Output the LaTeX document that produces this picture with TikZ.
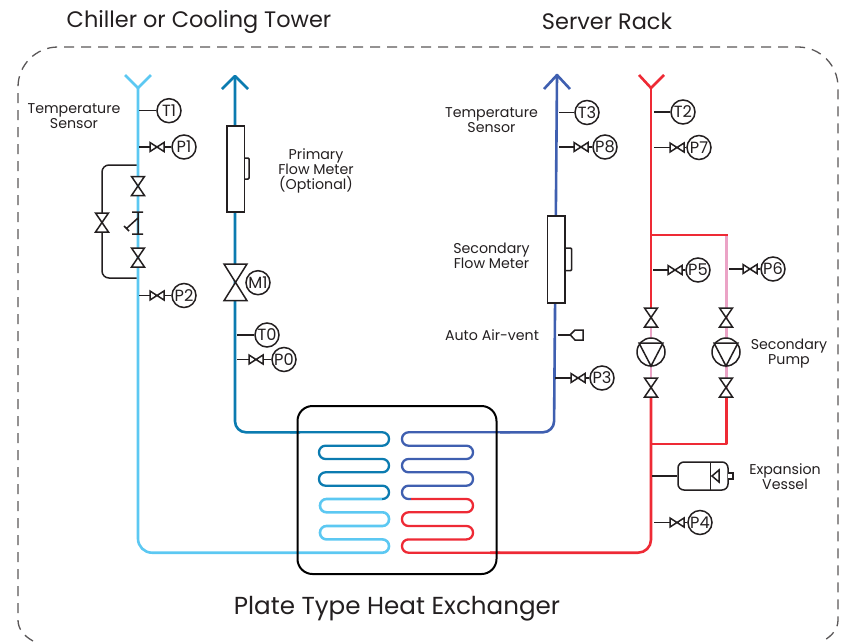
\documentclass[tikz,border=0pt]{standalone}
\usepackage{fontspec}
\setmainfont{Poppins}
\definecolor{lblue}{HTML}{5CC8F2}
\definecolor{teal2}{HTML}{0B7BB0}
\definecolor{blue2}{HTML}{3F5FB0}
\definecolor{red2}{HTML}{EE2A35}
\definecolor{pink2}{HTML}{EBA3C6}
\definecolor{ink}{HTML}{231F20}
\tikzset{
  x=1pt,y=-1pt,
  pipe/.style={line width=2.6pt,line join=round},
  coilline/.style={line width=2.3pt,rounded corners=6.5pt},
  instr/.style={draw=ink,line width=1.5pt},
  bow/.style={draw=ink,line width=1.5pt,fill=white,line join=miter},
  gauge/.style={circle,draw=ink,line width=1.5pt,fill=white,minimum size=24pt,inner sep=0pt,font=\fontsize{16.2}{17}\selectfont,text=ink},
  lab/.style={align=center,inner sep=0pt,font=\fontsize{14.2}{15}\selectfont,text=ink},
  head/.style={inner sep=0pt,font=\fontsize{22.4}{25}\selectfont,text=ink},
  hxbox/.style={draw=black,line width=2pt,rounded corners=15pt,minimum width=199pt,minimum height=168pt,inner sep=0pt},
  meter/.style={draw=ink,line width=1.5pt,fill=white,minimum width=17.5pt,inner sep=0pt},
}
% vertical bowtie valve: name, x, y centre
\newcommand{\VValve}[3]{\coordinate (#1) at (#2,#3);
  \draw[bow] ([shift={(-6.5pt,-9.5pt)}]#1) -- ([shift={(6.5pt,-9.5pt)}]#1) -- ([shift={(-6.5pt,9.5pt)}]#1) -- ([shift={(6.5pt,9.5pt)}]#1) -- cycle;}
% gauge: name, pipe x, y, valve left x, gauge x, label
\newcommand{\Gauge}[6]{\coordinate (#1s) at (#2,#3);\coordinate (#1v) at (#4,#3);
  \node[gauge] (#1) at (#5,#3) {\makebox[0pt][c]{#6}};
  \draw[instr] (#1s) -- (#1v);
  \draw[instr] (#1v) ++(14pt,0) -- (#1);
  \draw[bow] (#1v) ++(0,-4.5pt) -- ++(14pt,9pt) -- ++(0,-9pt) -- ++(-14pt,9pt) -- cycle;}
% sensor: name, pipe x, y, circle x, label
\newcommand{\Sensor}[5]{\coordinate (#1s) at (#2,#3);
  \node[gauge] (#1) at (#4,#3) {\makebox[0pt][c]{#5}};
  \draw[instr] (#1s) -- (#1);}
% pump: name, x, y
\newcommand{\Pump}[3]{\node[circle,draw=ink,line width=1.5pt,fill=white,minimum size=28pt,inner sep=0pt] (#1) at (#2,#3) {};
  \draw[draw=ink,line width=1.5pt,line join=miter] ([shift={(-12pt,9pt)}]#1.center) -- ([shift={(12pt,9pt)}]#1.center) -- ([shift={(0,-14pt)}]#1.center) -- cycle;}
\begin{document}
\begin{tikzpicture}
\useasboundingbox (0,0) rectangle (846,641);
% dashed frame
\coordinate (fa) at (33,641);\coordinate (fb) at (18,620);\coordinate (fc) at (18,87);
\coordinate (fd) at (58,47);\coordinate (fe) at (798,47);\coordinate (ff) at (838,87);
\coordinate (fg) at (838,620);\coordinate (fh) at (823,641);
\draw[draw=ink!75,line width=1.3pt,dash pattern=on 10pt off 7pt]
  (fa) .. controls (24,636) and (18,629) .. (fb) -- (fc) .. controls (18,65) and (36,47) .. (fd)
  -- (fe) .. controls (820,47) and (838,65) .. (ff) -- (fg) .. controls (838,629) and (832,636) .. (fh);
% headings
\node[head] (h1) at (199,21.5) {Chiller or Cooling Tower};
\node[head] (h2) at (607,21.5) {Server Rack};
\node[head,font=\fontsize{24.6}{28}\selectfont] (h3) at (397,609) {Plate Type Heat Exchanger};
% light blue loop
\draw[pipe,draw=lblue] (125,75) -- (138,88) -- (151,75);
\draw[coilline,draw=lblue] (382,499) -- (320,499) -- (320,512.3) -- (389,512.3) -- (389,526) -- (320,526) -- (320,539.4) -- (389,539.4) -- (389,552.7) -- (300,552.7)
  [rounded corners=14pt] -- (138,552.7) [line width=2.6pt] -- (138,88);
\draw[pipe,draw=lblue] (138,530) -- (138,88);
% teal loop
\draw[pipe,draw=teal2] (222,89) -- (235,76) -- (248,89);
\draw[pipe,draw=teal2,rounded corners=11pt] (235,76) -- (235,432.3) -- (300,432.3);
\draw[coilline,draw=teal2] (290,432.3) -- (389,432.3) -- (389,445.7) -- (319,445.7) -- (319,459) -- (389,459) -- (389,472.3) -- (319,472.3) -- (319,485.7) -- (389,485.7) -- (389,499) -- (382,499);
% blue loop
\draw[pipe,draw=blue2] (544,89) -- (557,75) -- (570,89);
\draw[pipe,draw=blue2,rounded corners=11pt] (557,76) -- (554,432.3) -- (500,432.3);
\draw[coilline,draw=blue2] (510,432.3) -- (402,432.3) -- (402,445.7) -- (473,445.7) -- (473,459) -- (402,459) -- (402,472.3) -- (473,472.3) -- (473,485.7) -- (402,485.7) -- (402,499) -- (411,499);
% red loop
\draw[pipe,draw=red2] (639,75) -- (651,88) -- (664,75);
\draw[coilline,draw=red2] (411,499) -- (473,499) -- (473,512.3) -- (402,512.3) -- (402,526) -- (473,526) -- (473,539.4) -- (402,539.4) -- (402,552.7) -- (500,552.7);
\draw[pipe,draw=red2,rounded corners=13pt] (490,552.7) -- (651,552.7) -- (651,397);
\draw[pipe,draw=pink2] (651,397) -- (651,308);
\draw[pipe,draw=red2] (651,308) -- (651,88);
\draw[pipe,draw=pink2] (726.5,235) -- (726.5,397);
\draw[pipe,draw=red2] (651,235) -- (727.8,235);
\draw[pipe,draw=red2,line join=round] (651,444) -- (726.5,444) -- (726.5,397);
% heat exchanger
\node[hxbox] (hx) at (397,490) {};
% light blue instruments
\draw[instr,rounded corners=7pt] (136.5,165) -- (102,165) -- (102,278) -- (136.5,278);
\VValve{vb}{102}{222.5}
\VValve{va}{138}{186}
\VValve{vc}{138}{257.5}
\coordinate (sa) at (138,212);\coordinate (sb) at (138,234);
\draw[instr] (sa) -- (sb) (132,212) -- (143,212) (132,234) -- (143,234) (138,218) -- (127,228) (124,226) -- (129,231);
\Sensor{T1}{139}{110.7}{169}{T1}
\Gauge{P1}{139}{147}{150}{184}{P1}
\Gauge{P2}{139}{295.5}{150}{184}{P2}
\node[lab] (l1) at (74,116) {Temperature\\Sensor};
% teal instruments
\node[meter,minimum height=86pt] (fm1) at (235.5,169) {};
\draw[instr,rounded corners=1pt] (244.3,158) -- (249,158) -- (249,179) -- (244.3,179);
\coordinate (mv) at (235.5,282.5);
\node[gauge] (M1) at (258,282.7) {\makebox[0pt][c]{M1}};
\draw[bow] (224,264) -- (247,264) -- (224,300.7) -- (247,300.7) -- cycle;
\Sensor{T0}{237}{335}{267}{T0}
\Gauge{P0}{237}{359.5}{249}{284}{P0}
\node[lab] (l2) at (316,170.5) {Primary\\Flow Meter\\(Optional)};
% blue instruments
\Sensor{T3}{559}{112.5}{587}{T3}
\Gauge{P8}{559}{147}{574}{605}{P8}
\node[meter,minimum height=87pt] (fm2) at (556,259.5) {};
\draw[instr,rounded corners=1pt] (564.8,248) -- (571.5,248) -- (571.5,270.7) -- (564.8,270.7);
\coordinate (avs) at (558,335);
\node[inner sep=0pt,minimum size=0pt] (av) at (570,335) {};
\draw[instr] (avs) -- (av);
\draw[draw=ink,line width=1.5pt,fill=white] (av) -- (575,330) -- (583,330) -- (583,340) -- (575,340) -- cycle;
\Gauge{P3}{555}{378}{571}{602}{P3}
\node[lab] (l3) at (491.5,120.5) {Temperature\\Sensor};
\node[lab] (l4) at (491.5,255.5) {Secondary\\Flow Meter};
\node[lab] (l5) at (492,335.5) {Auto Air-vent};
% red instruments
\Sensor{T2}{654}{112}{683}{T2}
\Gauge{P7}{654}{147.5}{670}{699}{P7}
\Gauge{P5}{653}{270}{668}{698}{P5}
\Gauge{P6}{729}{269}{743}{773}{P6}
\Gauge{P4}{654}{522.5}{670}{700}{P4}
\VValve{v1}{651}{317.5}
\VValve{v2}{651}{387.5}
\VValve{v3}{726}{317.5}
\VValve{v4}{726}{387.5}
\Pump{pm1}{651}{352}
\Pump{pm2}{726}{352}
\node[lab] (l6) at (789,353.5) {Secondary\\Pump};
% expansion vessel
\node[draw=ink,line width=1.5pt,fill=white,rounded corners=6pt,minimum width=50pt,minimum height=28pt,inner sep=0pt] (ev) at (703,476) {};
\coordinate (evs) at (652,476);
\draw[instr] (evs) -- (ev);
\draw[instr] (710.7,462) -- (710.7,490);
\draw[instr,line join=miter] (712,476) -- (719,470) -- (719,482) -- cycle;
\draw[instr,fill=white] (728,473) -- (733,473) -- (733,479) -- (728,479);
\node[lab] (l7) at (785,477) {Expansion\\Vessel};
\end{tikzpicture}
\end{document}
